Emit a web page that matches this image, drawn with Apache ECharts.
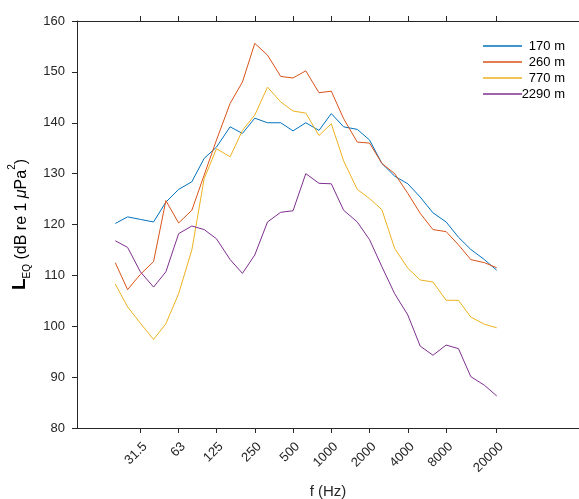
<!DOCTYPE html>
<html><head><meta charset="utf-8">
<script src="https://cdn.jsdelivr.net/npm/echarts@6/dist/echarts.min.js"></script>
<style>html,body{margin:0;padding:0;background:#fff}#c{width:579px;height:499px}</style>
</head><body><div id="c"></div>
<script>
const freqs = [20,25,31.5,40,50,63,80,100,125,160,200,250,315,400,500,630,800,1000,1250,1600,2000,2500,3150,4000,5000,6300,8000,10000,12500,16000,20000];
const seriesNames = ['170 m','260 m','770 m','2290 m'];
const s170 = [120.2,121.5,121.0,120.5,124.4,126.9,128.4,133.0,135.2,139.2,137.9,140.9,140.0,140.0,138.4,140.0,138.5,141.8,139.2,138.7,136.6,132.0,129.5,128.0,125.4,122.3,120.5,117.5,115.1,113.1,111.0];
const s260 = [112.5,107.2,110.2,112.7,124.7,120.3,122.8,129.7,136.6,143.8,148.0,155.6,153.3,149.1,148.8,150.2,145.9,146.2,140.8,136.2,136.0,132.0,130.0,126.1,122.2,119.0,118.6,116.0,113.1,112.5,111.5];
const s770 = [108.3,103.8,100.6,97.4,100.5,106.4,115.0,129.0,134.9,133.3,138.5,141.5,147.0,144.1,142.3,141.9,137.5,139.8,132.5,126.9,125.1,122.9,115.3,111.4,109.1,108.7,105.1,105.1,101.8,100.4,99.7];
const s2290 = [116.8,115.5,110.7,107.7,110.7,118.2,119.7,119.0,117.2,113.1,110.4,114.0,120.5,122.4,122.7,130.0,128.1,128.0,122.8,120.5,117.0,111.7,106.4,102.2,96.1,94.3,96.3,95.6,90.1,88.4,86.3];
const tickFreqs = [31.5,63,125,250,500,1000,2000,4000,8000,20000];
const tickLabels = ['31.5','63','125','250','500','1000','2000','4000','8000','20000'];
const colors = ['#0072BD','#D95319','#EDB120','#7E2F8E'];

const chart = echarts.init(document.getElementById('c'));
const lg = f => Math.log10(f);
const tickPos = tickFreqs.map(lg);
function labelFor(v){
  let best = 0, bd = 1e9;
  tickPos.forEach((p,i)=>{ const d = Math.abs(p-v); if (d < bd) { bd = d; best = i; } });
  return tickLabels[best];
}
const axisCol = '#262626';
const font = '"Liberation Sans", Arial, Helvetica, sans-serif';
const mk = (name, data, color) => ({
  name, type:'line', data: freqs.map((f,i)=>[lg(f), data[i]]),
  symbol:'none', lineStyle:{width:1, color}, itemStyle:{color}, emphasis:{disabled:true}
});
const option = {
  animation:false,
  grid:[
    {left:77, right:0, top:21, bottom:71, containLabel:false, outerBoundsMode:'none'},
    {left:77, right:0, top:0, height:21, containLabel:false, outerBoundsMode:'none'}
  ],
  legend:{
    data:seriesNames, orient:'vertical', left:483, top:39.5, padding:0,
    icon:'rect', itemWidth:39, itemHeight:1.3, itemGap:3,
    textStyle:{fontSize:13, color:'#000', fontFamily:font, rich:{r:{width:38, align:'right', fontSize:13, lineHeight:16, fontFamily:font, color:'#000'}}},
    formatter: n => '{r|' + n + '}'
  },
  xAxis:[
    {
      gridIndex:0, type:'value', min:1, max:4.948, position:'bottom',
      axisLine:{show:true, onZero:false, lineStyle:{color:axisCol, width:1}},
      axisTick:{show:true, customValues:tickPos, length:5, inside:false, lineStyle:{color:axisCol}},
      splitLine:{show:false},
      axisLabel:{customValues:tickPos, formatter:v=>labelFor(v), rotate:45, fontSize:13, color:axisCol, fontFamily:font, margin:12, align:'right', verticalAlign:'top'},
      name:'f (Hz)', nameLocation:'middle', nameGap:56,
      nameTextStyle:{fontSize:15, color:axisCol, fontFamily:font}
    },
    {
      gridIndex:1, type:'value', min:1, max:4.948, position:'bottom',
      axisLine:{show:true, onZero:false, lineStyle:{color:axisCol, width:1}},
      axisTick:{show:true, customValues:tickPos, length:5, inside:true, lineStyle:{color:axisCol, width:1}},
      splitLine:{show:false},
      axisLabel:{show:true, customValues:tickPos, formatter:()=>'', color:'rgba(0,0,0,0)'}
    }
  ],
  yAxis:[
    {
      gridIndex:0, type:'value', min:80, max:160, interval:10,
      axisLine:{show:true, lineStyle:{color:axisCol, width:1}},
      axisTick:{show:true, length:5, inside:false, lineStyle:{color:axisCol}},
      axisLabel:{fontSize:13, color:axisCol, fontFamily:font, margin:12},
      splitLine:{show:false},
      name:'{b|L}{s|EQ}{n| (dB re 1 }{i|μ}{n|Pa}{p|2}{n|)}',
      nameLocation:'middle', nameGap:47,
      nameTextStyle:{color:'#000', fontFamily:font,
        rich:{
          b:{fontSize:19, fontWeight:'bold', fontFamily:font, color:'#000', verticalAlign:'bottom', lineHeight:22},
          s:{fontSize:10, fontFamily:font, color:'#000', verticalAlign:'bottom', lineHeight:22, padding:[0,0,-3,0]},
          n:{fontSize:16, fontFamily:font, color:'#000', verticalAlign:'bottom', lineHeight:22},
          i:{fontSize:16, fontStyle:'italic', fontFamily:font, color:'#000', verticalAlign:'bottom', lineHeight:22},
          p:{fontSize:10, fontFamily:font, color:'#000', verticalAlign:'top', lineHeight:22}
        }}
    },
    {gridIndex:1, type:'value', min:0, max:1, show:false}
  ],
  series:[
    mk(seriesNames[0], s170, colors[0]), mk(seriesNames[1], s260, colors[1]),
    mk(seriesNames[2], s770, colors[2]), mk(seriesNames[3], s2290, colors[3]),
    {type:'line', xAxisIndex:1, yAxisIndex:1, data:[], silent:true, symbol:'none'}
  ]
};
chart.setOption(option);
</script></body></html>
